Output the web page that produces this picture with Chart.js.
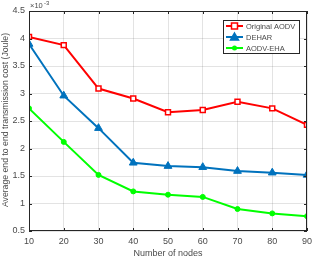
<!DOCTYPE html>
<html>
<head>
<meta charset="utf-8">
<script src="https://cdn.jsdelivr.net/npm/chart.js@4"></script>
<style>
  html, body { margin: 0; padding: 0; background: #fff; }
  #wrap { width: 313px; height: 261px; position: relative; }
</style>
</head>
<body>
<div id="wrap"><canvas id="energy-chart"></canvas></div>
<script>
// values (x 10^-3 Joule)
const nodes = [10, 20, 30, 40, 50, 60, 70, 80, 90];
const originalAodv = [4.03, 3.88, 3.09, 2.91, 2.66, 2.70, 2.85, 2.73, 2.43];
const dehar = [3.90, 2.96, 2.37, 1.74, 1.68, 1.66, 1.59, 1.56, 1.52];
const aodvEha = [2.73, 2.12, 1.52, 1.22, 1.16, 1.12, 0.90, 0.82, 0.77];
const seriesNames = ['Original AODV', 'DEHAR', 'AODV-EHA'];
const yTicks = [0.5, 1, 1.5, 2, 2.5, 3, 3.5, 4, 4.5];

const FONT = '"Liberation Sans", Arial, sans-serif';
const TXT = '#4a4a4a';
const colors = ['#ff0000', '#0072bd', '#00ff00'];
const markers = ['rect', 'triangle', 'circle'];

const toPoints = vals => vals.map((v, i) => ({ x: nodes[i], y: v }));

const matlabAxes = {
  id: 'matlabAxes',
  afterDraw(chart) {
    const { ctx, chartArea: a, scales } = chart;
    ctx.save();
    // box + inward ticks
    ctx.strokeStyle = '#262626';
    ctx.lineWidth = 1;
    ctx.strokeRect(a.left + 0.5, a.top + 0.5, a.right - a.left - 1, a.bottom - a.top - 1);
    ctx.beginPath();
    nodes.forEach(n => {
      const px = Math.round(scales.x.getPixelForValue(n)) + 0.5;
      ctx.moveTo(px, a.bottom); ctx.lineTo(px, a.bottom - 3);
      ctx.moveTo(px, a.top); ctx.lineTo(px, a.top + 3);
    });
    yTicks.forEach(v => {
      const py = Math.round(scales.y.getPixelForValue(v)) + 0.5;
      ctx.moveTo(a.left, py); ctx.lineTo(a.left + 3, py);
      ctx.moveTo(a.right, py); ctx.lineTo(a.right - 3, py);
    });
    ctx.stroke();

    // exponent label
    ctx.fillStyle = TXT;
    ctx.textBaseline = 'alphabetic';
    ctx.textAlign = 'left';
    ctx.font = '7.5px ' + FONT;
    ctx.fillText('\u00d710', a.left + 1, a.top - 3);
    ctx.font = '6px ' + FONT;
    ctx.fillText('-3', a.left + 15, a.top - 6);

    // axis titles
    ctx.font = '9px ' + FONT;
    ctx.textAlign = 'center';
    ctx.textBaseline = 'middle';
    ctx.fillText('Number of nodes', (a.left + a.right) / 2, 254);
    ctx.translate(6, (a.top + a.bottom) / 2 - 1);
    ctx.rotate(-Math.PI / 2);
    ctx.font = '8.7px ' + FONT;
    ctx.fillText('Average end to end transmission cost (Joule)', 0, 0);
    ctx.setTransform(1, 0, 0, 1, 0, 0);

    // legend inside the axes (north-east)
    const lx = 223, ly = 20, lw = 76, lh = 33;
    ctx.fillStyle = '#fff';
    ctx.fillRect(lx, ly, lw, lh);
    ctx.strokeStyle = '#262626';
    ctx.lineWidth = 1;
    ctx.strokeRect(lx + 0.5, ly + 0.5, lw, lh);
    ctx.font = '7.5px ' + FONT;
    ctx.textAlign = 'left';
    seriesNames.forEach((name, i) => {
      const y = ly + 6 + i * 11;
      ctx.strokeStyle = colors[i];
      ctx.lineWidth = 2;
      ctx.beginPath();
      ctx.moveTo(lx + 3, y); ctx.lineTo(lx + 20, y);
      ctx.stroke();
      ctx.fillStyle = colors[i];
      ctx.lineWidth = 1.5;
      const cx = lx + 11.5;
      if (markers[i] === 'rect') {
        ctx.fillStyle = '#fff';
        ctx.fillRect(cx - 3, y - 3, 6, 6);
        ctx.strokeRect(cx - 3, y - 3, 6, 6);
      } else if (markers[i] === 'triangle') {
        ctx.beginPath();
        ctx.moveTo(cx, y - 4); ctx.lineTo(cx + 4, y + 3); ctx.lineTo(cx - 4, y + 3);
        ctx.closePath(); ctx.fill(); ctx.stroke();
      } else {
        ctx.beginPath(); ctx.arc(cx, y, 2.5, 0, Math.PI * 2); ctx.fill();
      }
      ctx.fillStyle = TXT;
      ctx.fillText(name, lx + 23, y + 0.5);
    });
    ctx.restore();
  }
};

const chart = new Chart(document.getElementById('energy-chart'), {
  type: 'line',
  data: {
    datasets: [
      {
        label: seriesNames[0], data: toPoints(originalAodv),
        borderColor: colors[0], backgroundColor: '#ffffff', pointBorderColor: colors[0],
        borderWidth: 2, pointStyle: 'rect', pointRadius: 3.5, pointBorderWidth: 1.5,
      },
      {
        label: seriesNames[1], data: toPoints(dehar),
        borderColor: colors[1], backgroundColor: colors[1],
        borderWidth: 2, pointStyle: 'triangle', pointRadius: 4.5, pointBorderWidth: 1,
      },
      {
        label: seriesNames[2], data: toPoints(aodvEha),
        borderColor: colors[2], backgroundColor: colors[2],
        borderWidth: 2, pointStyle: 'circle', pointRadius: 2.5, pointBorderWidth: 1,
      },
    ],
  },
  options: {
    responsive: true,
    maintainAspectRatio: false,
    animation: false,
    layout: { padding: { top: 11, right: 6, left: 0, bottom: 0 } },
    plugins: { legend: { display: false }, tooltip: { enabled: false } },
    scales: {
      x: {
        type: 'linear', min: 10, max: 90,
        afterFit: s => { s.height = 30; s.paddingRight = 0; s.paddingLeft = 0; },
        ticks: { stepSize: 10, color: TXT, font: { size: 9, family: FONT }, padding: 5 },
        grid: { color: 'rgba(38,38,38,0.13)', drawTicks: false },
        border: { display: false },
      },
      y: {
        min: 0.5, max: 4.5,
        afterFit: s => { s.width = 29; s.paddingTop = 0; s.paddingBottom = 0; },
        afterBuildTicks: s => { s.ticks = yTicks.map(v => ({ value: v })); },
        ticks: {
          color: TXT, font: { size: 9, family: FONT }, padding: 4,
          callback: v => String(v),
        },
        grid: { color: 'rgba(38,38,38,0.13)', drawTicks: false },
        border: { display: false },
      },
    },
  },
  plugins: [matlabAxes],
});
</script>
</body>
</html>
